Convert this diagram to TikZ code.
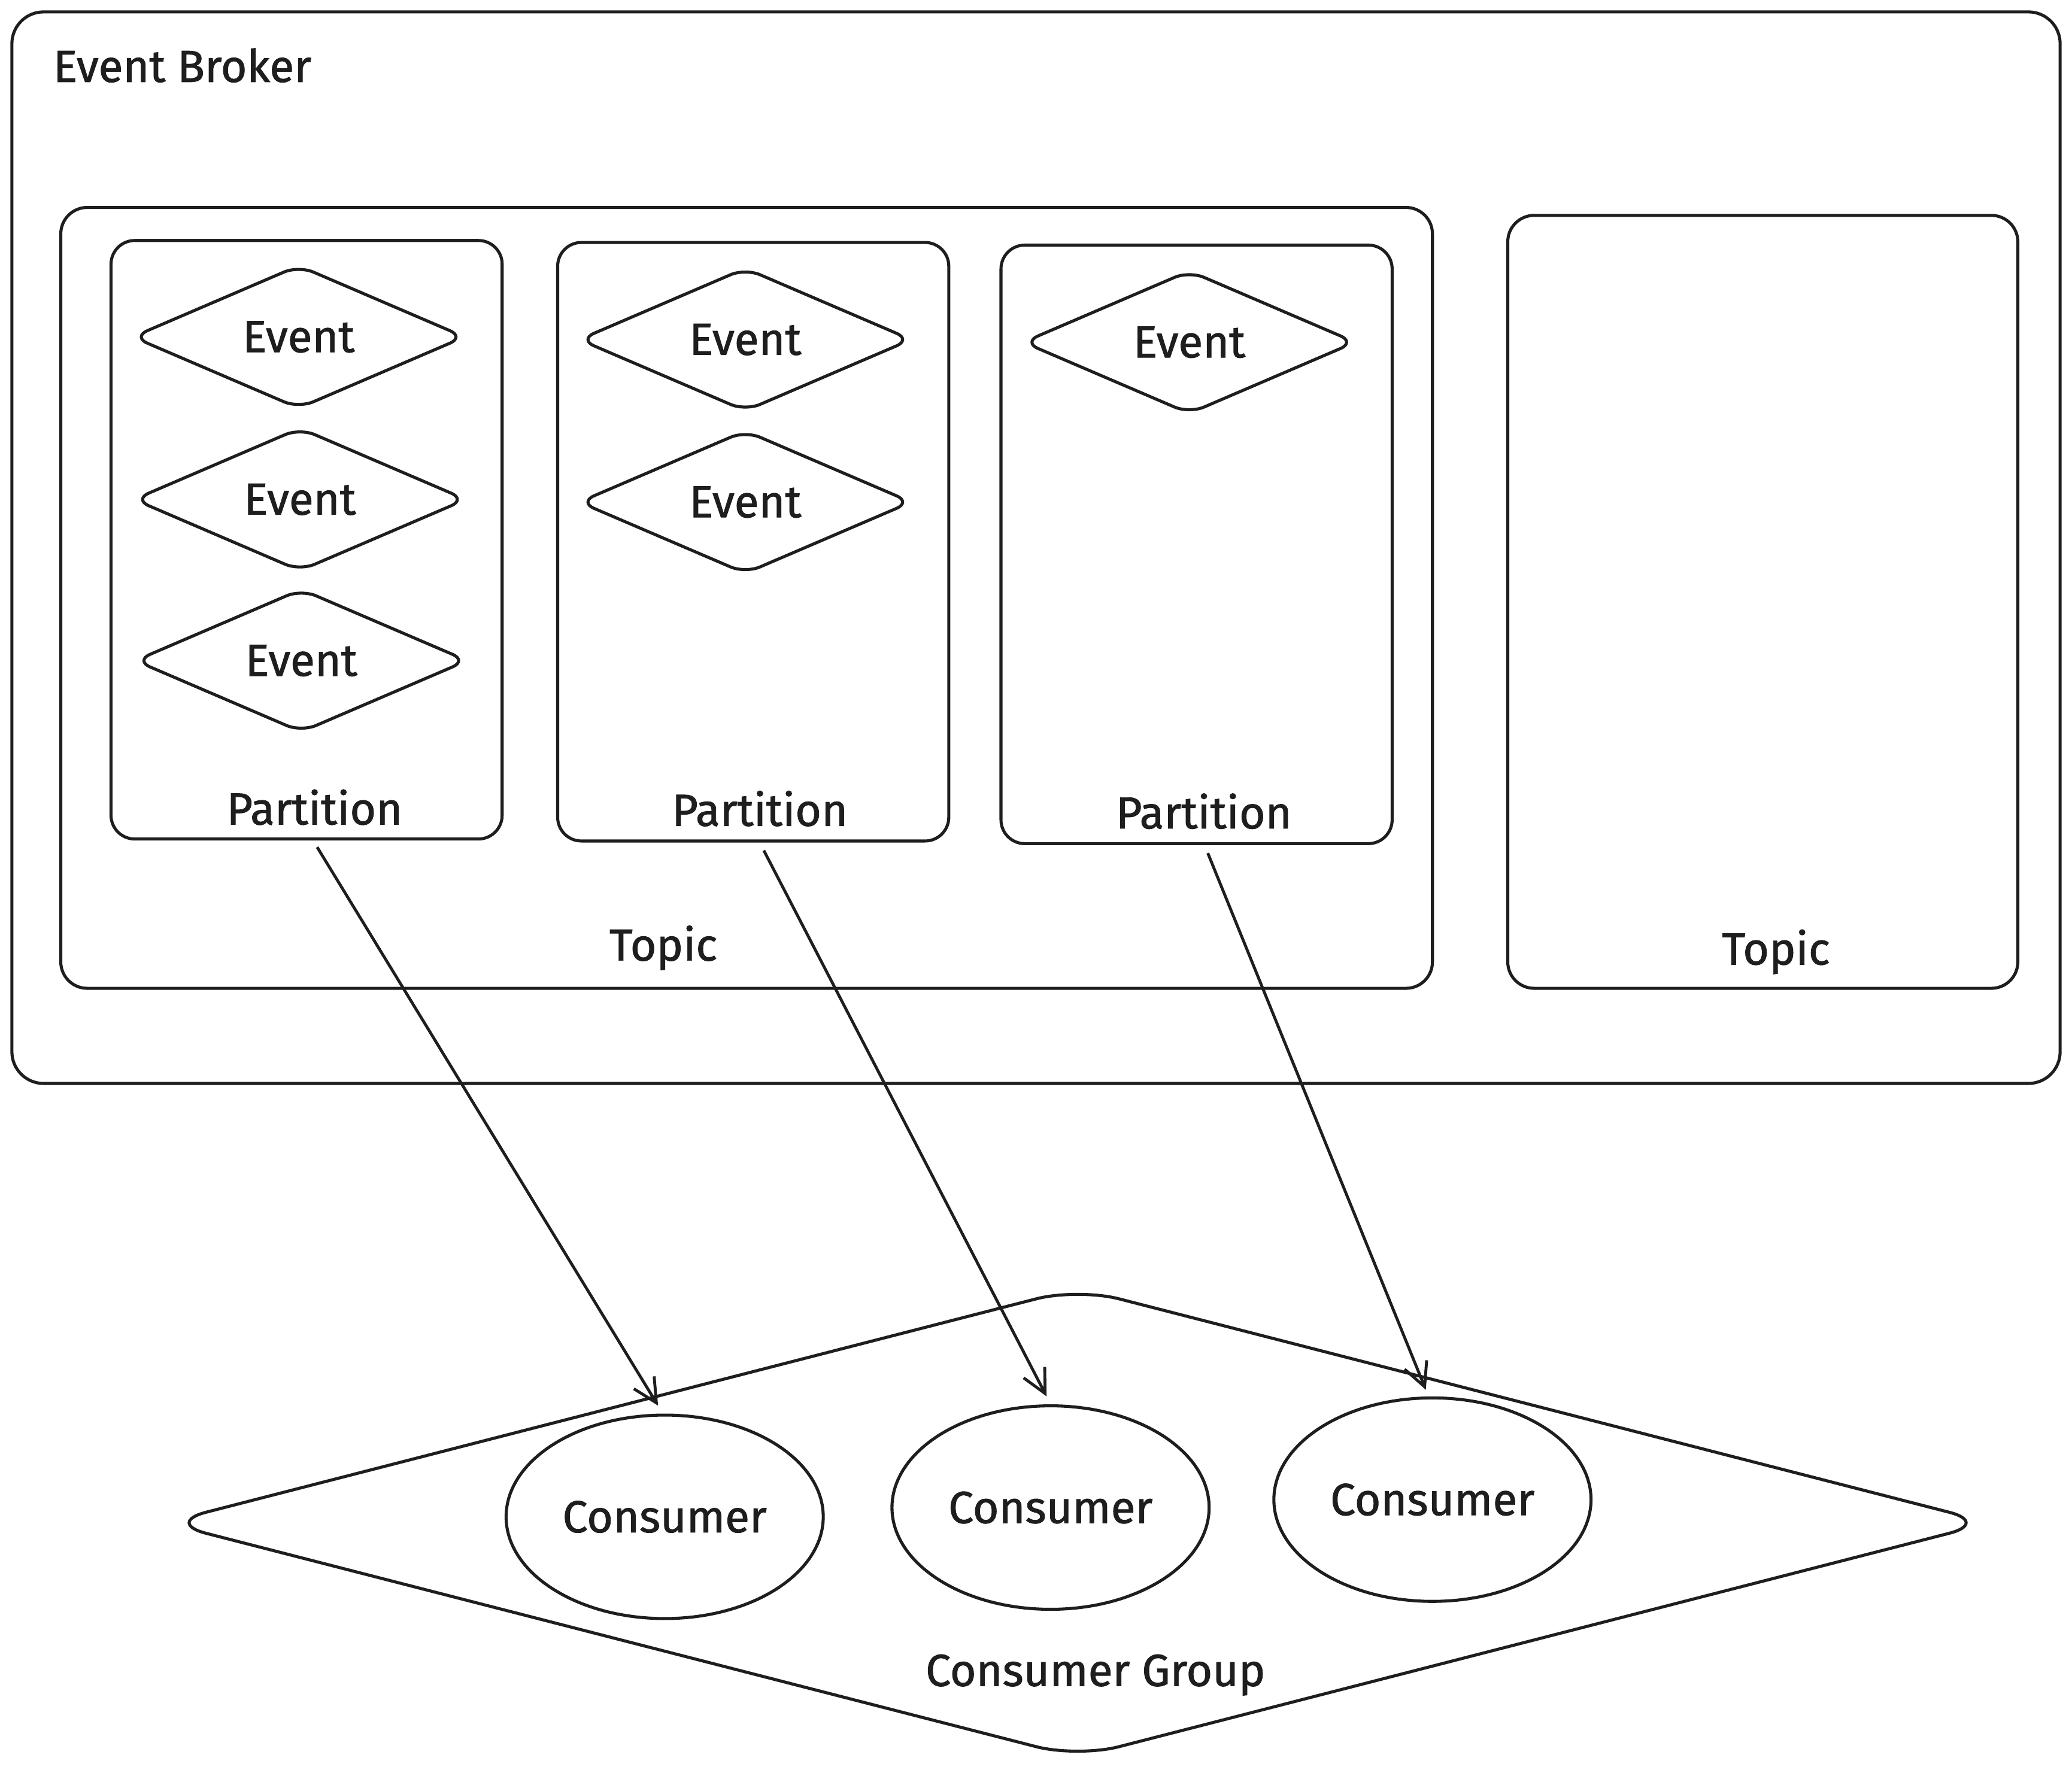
\documentclass[tikz,border=0pt]{standalone}
\usepackage{fontspec}
\setmainfont{Fira Sans}[FakeBold=1.2]
\usetikzlibrary{shapes.geometric,arrows.meta}
\definecolor{ink}{HTML}{1E1E1E}
\begin{document}
\begin{tikzpicture}[x=0.5pt,y=-0.5pt,
  txt/.style={text=ink, font=\fontsize{17}{20}\selectfont, inner sep=0pt},
  shp/.style={draw=ink, line width=1.15pt, txt},
  broker/.style={shp, rectangle, rounded corners=12pt, minimum width=775pt, minimum height=405.5pt},
  topicbox/.style={shp, rectangle, rounded corners=10pt},
  partbox/.style={shp, rectangle, rounded corners=9pt, minimum width=148pt, minimum height=226.5pt},
  evt/.style={shp, diamond, minimum width=126pt, minimum height=53pt, rounded corners=6pt},
  cons/.style={shp, ellipse, minimum width=120pt, minimum height=77pt},
  group/.style={shp, diamond, minimum width=691pt, minimum height=178pt, rounded corners=16pt},
  lbl/.style={txt, anchor=base},
  flow/.style={draw=ink, line width=1.1pt, -{Straight Barb[length=9pt,width=9pt,line width=1.1pt]}}
]
\useasboundingbox (0,0) rectangle (1568,1346);

% Event broker
\node[broker] (broker) at (784,414.5) {};
\node[txt, anchor=base west] (brokerlbl) at (40,62) {Event Broker};

% Topics
\node[topicbox, minimum width=519pt, minimum height=295.5pt] (topic1) at (565,452.5) {};
\node[lbl] (topic1lbl) at (502,727) {Topic};
\node[topicbox, minimum width=193pt, minimum height=292.5pt] (topic2) at (1334,455.5) {};
\node[lbl] (topic2lbl) at (1344,730) {Topic};

% Partitions
\node[partbox] (p1) at (232,408.5) {};
\node[partbox] (p2) at (570,410) {};
\node[partbox] (p3) at (905.5,412) {};
\node[lbl] (p1lbl) at (238,624) {Partition};
\node[lbl] (p2lbl) at (575,625) {Partition};
\node[lbl] (p3lbl) at (911,627) {Partition};

% Events
\node[evt] (e11) at (226,255) {Event};
\node[evt] (e12) at (227,378) {Event};
\node[evt] (e13) at (228,500) {Event};
\node[evt] (e21) at (564,257) {Event};
\node[evt] (e22) at (564,380) {Event};
\node[evt] (e31) at (900,259) {Event};

% Consumer group
\node[group] (cg) at (815.5,1152.5) {};
\node[lbl] (cglbl) at (829,1276) {Consumer Group};

% Consumers
\node[cons] (c1) at (503,1148) {Consumer};
\node[cons] (c2) at (795,1141) {Consumer};
\node[cons] (c3) at (1084,1135) {Consumer};

% Connectors
\draw[flow] ([xshift=4pt,yshift=-2.5pt]p1.south) -- ([xshift=-2.5pt,yshift=3pt]c1.north);
\draw[flow] ([xshift=4pt,yshift=-3pt]p2.south) -- ([xshift=-1.5pt,yshift=3pt]c2.north);
\draw[flow] ([xshift=4.25pt,yshift=-3pt]p3.south) -- ([xshift=-2.5pt,yshift=2.5pt]c3.north);
\end{tikzpicture}
\end{document}
